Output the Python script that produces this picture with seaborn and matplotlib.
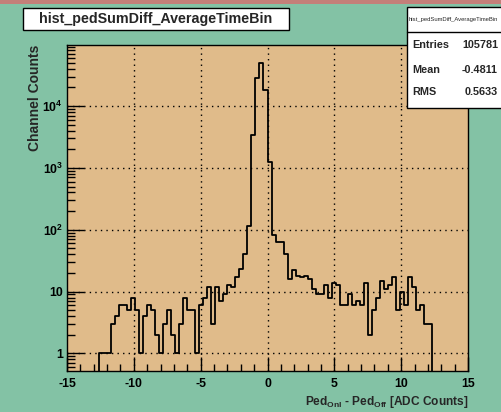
import numpy as np
import pandas as pd
import matplotlib
matplotlib.use("Agg")
import matplotlib.pyplot as plt
import seaborn as sns
from matplotlib.patches import Rectangle
from matplotlib.lines import Line2D
from matplotlib.ticker import FixedLocator, NullFormatter

# ---- data ----
bin_lo, bin_hi, n_bins = -15.0, 15.0, 100
counts = [0, 0, 0, 0, 0, 0, 0, 0,
          1, 1, 1, 3, 4, 6, 6, 5, 8, 5,
          1, 4, 6, 5, 2, 1, 3, 5, 2, 1,
          3, 8, 5, 5, 1, 6, 8, 12, 3, 12,
          7, 9, 13, 12, 17, 23, 41, 116, 3450, 28600,
          50000, 18100, 1250, 83, 64, 64, 41, 16, 22, 18,
          17, 18, 16, 11, 9, 9, 13, 8, 14, 13,
          6, 6, 9, 6, 7, 6, 14, 2, 5, 8,
          15, 11, 13, 17, 5, 10, 6, 17, 12, 5,
          6, 3, 3, 0, 0, 0, 0, 0, 0, 0, 0, 0]
assert len(counts) == n_bins
title = "hist_pedSumDiff_AverageTimeBin"
stats_labels = ["Entries", "Mean", "RMS"]
stats_values = ["105781", "-0.4811", "0.5633"]
x_ticks = [-15, -10, -5, 0, 5, 10, 15]
y_ticks = [1, 10, 100, 1000, 10000]
y_tick_labels = ["1", "10", r"10$^{2}$", r"10$^{3}$", r"10$^{4}$"]

edges = np.linspace(bin_lo, bin_hi, n_bins + 1)
centers = 0.5 * (edges[:-1] + edges[1:])
df = pd.DataFrame({"x": centers, "w": np.asarray(counts, dtype=float)})

# ---- style ----
sns.set_style("ticks")
plt.rcParams["font.family"] = ["Liberation Sans", "DejaVu Sans"]
plt.rcParams["font.weight"] = "bold"
plt.rcParams["mathtext.fontset"] = "custom"
plt.rcParams["mathtext.rm"] = "Liberation Sans:bold"
plt.rcParams["mathtext.it"] = "Liberation Sans:bold"
plt.rcParams["mathtext.bf"] = "Liberation Sans:bold"

bg = "#83c2a5"
pad = "#e0bb8a"

fig = plt.figure(figsize=(5.01, 4.12), dpi=100, facecolor=bg)
ax = fig.add_axes([67 / 501, 1 - 371 / 412, 401 / 501, 326 / 412])
ax.set_facecolor(pad)

sns.histplot(data=df, x="x", weights="w", bins=n_bins, binrange=(bin_lo, bin_hi),
             element="step", fill=False, color="black", linewidth=1.3, ax=ax,
             stat="count")
ax.set_yscale("log")
ax.set_xlim(-15, 15)
ax.set_ylim(0.52, 97000)

ax.xaxis.set_major_locator(FixedLocator(x_ticks))
ax.xaxis.set_minor_locator(FixedLocator(np.arange(-15, 15.01, 1.0)))
ax.set_xticklabels([str(t) for t in x_ticks])
ax.yaxis.set_major_locator(FixedLocator(y_ticks))
minor_y = [m * 10 ** e for e in range(-1, 5) for m in range(2, 10)]
ax.yaxis.set_minor_locator(FixedLocator(minor_y))
ax.yaxis.set_minor_formatter(NullFormatter())
ax.set_yticklabels(y_tick_labels)

ax.tick_params(axis="both", which="both", direction="in", colors="black",
               labelsize=8.8, top=False, right=False)
ax.tick_params(axis="x", which="major", length=10, width=1, pad=5)
ax.tick_params(axis="x", which="minor", length=5, width=1)
ax.tick_params(axis="y", which="major", length=12, width=1, pad=3)
ax.tick_params(axis="y", which="minor", length=6, width=1)
for lab in ax.get_xticklabels() + ax.get_yticklabels():
    lab.set_fontweight("bold")

for xv in x_ticks[1:-1]:
    ax.axvline(xv, color="black", lw=1, ls=(0, (1, 3)), zorder=0.5)
for yv in y_ticks:
    ax.axhline(yv, color="black", lw=1, ls=(0, (1, 3)), zorder=0.5)

for s in ax.spines.values():
    s.set_color("black")
    s.set_linewidth(1)

ax.set_xlabel("")
ax.set_ylabel("")
fig.text(468 / 501, 1 - 402 / 412,
         r"Ped$_{\mathrm{Onl}}$ - Ped$_{\mathrm{Off}}$ [ADC Counts]",
         ha="right", va="center", fontsize=8.6, fontweight="bold")
fig.text(35 / 501, 1 - 45 / 412, "Channel Counts", rotation=90,
         ha="center", va="top", fontsize=10, fontweight="bold")

# top band
fig.add_artist(Rectangle((0, 1 - 3.5 / 412), 1, 3.5 / 412, transform=fig.transFigure,
                         facecolor="#c47f79", edgecolor="none"))

# title box
fig.add_artist(Rectangle((23 / 501, 1 - 29.5 / 412), 266 / 501, 22 / 412,
                         transform=fig.transFigure, facecolor="white",
                         edgecolor="black", linewidth=1))
fig.text(156 / 501, 1 - 18.5 / 412, title, ha="center", va="center",
         fontsize=10.3, fontweight="bold")

# stats box
fig.add_artist(Rectangle((407 / 501, 1 - 108 / 412), 100 / 501, 101 / 412,
                         transform=fig.transFigure, facecolor="white",
                         edgecolor="black", linewidth=1, clip_on=False))
fig.add_artist(Line2D([407 / 501, 1], [1 - 31.5 / 412] * 2, transform=fig.transFigure,
                      color="black", lw=1))
fig.text(409 / 501, 1 - 19.5 / 412, title, ha="left", va="center",
         fontsize=4.2, fontweight="normal")
row_y = [45, 70, 92]
for lab, val, yy in zip(stats_labels, stats_values, row_y):
    fig.text(412 / 501, 1 - yy / 412, lab, ha="left", va="center",
             fontsize=7.8, fontweight="bold")
    fig.text(498 / 501, 1 - yy / 412, val, ha="right", va="center",
             fontsize=7.8, fontweight="bold")

fig.savefig("out.png", dpi=100, facecolor=bg)
